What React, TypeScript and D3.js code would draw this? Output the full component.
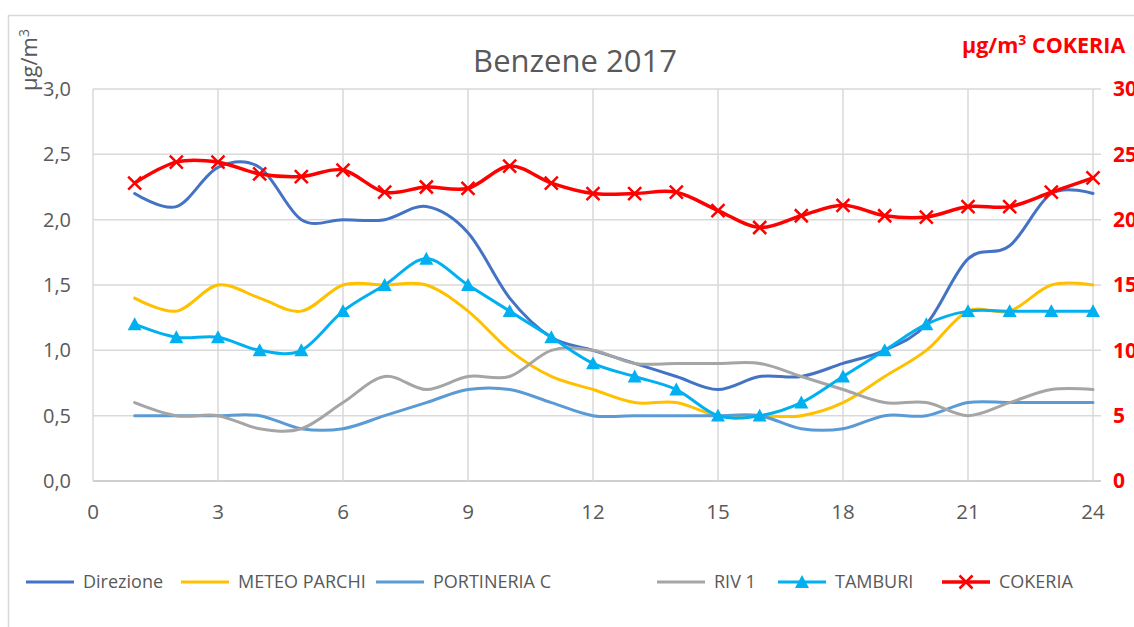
import * as d3 from "d3";

// Benzene 2017 — hourly means per station; COKERIA sits on its own right axis (0–30).

const hours = d3.range(1, 25);

const direzione = [2.2, 2.1, 2.4, 2.4, 2.0, 2.0, 2.0, 2.1, 1.9, 1.4, 1.1, 1.0, 0.9, 0.8, 0.7, 0.8, 0.8, 0.9, 1.0, 1.2, 1.7, 1.8, 2.2, 2.2];
const meteoParchi = [1.4, 1.3, 1.5, 1.4, 1.3, 1.5, 1.5, 1.5, 1.3, 1.0, 0.8, 0.7, 0.6, 0.6, 0.5, 0.5, 0.5, 0.6, 0.8, 1.0, 1.3, 1.3, 1.5, 1.5];
const portineria = [0.5, 0.5, 0.5, 0.5, 0.4, 0.4, 0.5, 0.6, 0.7, 0.7, 0.6, 0.5, 0.5, 0.5, 0.5, 0.5, 0.4, 0.4, 0.5, 0.5, 0.6, 0.6, 0.6, 0.6];
const riv1 = [0.6, 0.5, 0.5, 0.4, 0.4, 0.6, 0.8, 0.7, 0.8, 0.8, 1.0, 1.0, 0.9, 0.9, 0.9, 0.9, 0.8, 0.7, 0.6, 0.6, 0.5, 0.6, 0.7, 0.7];
const tamburi = [1.2, 1.1, 1.1, 1.0, 1.0, 1.3, 1.5, 1.7, 1.5, 1.3, 1.1, 0.9, 0.8, 0.7, 0.5, 0.5, 0.6, 0.8, 1.0, 1.2, 1.3, 1.3, 1.3, 1.3];
const cokeria = [22.8, 24.4, 24.4, 23.5, 23.3, 23.8, 22.1, 22.5, 22.4, 24.1, 22.8, 22.0, 22.0, 22.1, 20.7, 19.4, 20.3, 21.1, 20.3, 20.2, 21.0, 21.0, 22.1, 23.2];

const xTicks = [0, 3, 6, 9, 12, 15, 18, 21, 24];
const leftTicks = [0, 0.5, 1, 1.5, 2, 2.5, 3];
const rightTicks = [0, 5, 10, 15, 20, 25, 30];

type Series = { name: string; values: number[]; color: string; width: number; marker?: "triangle" | "x"; right?: boolean };

const series: Series[] = [
  { name: "Direzione", values: direzione, color: "#4472C4", width: 3 },
  { name: "METEO PARCHI", values: meteoParchi, color: "#FFC000", width: 3 },
  { name: "PORTINERIA C", values: portineria, color: "#5B9BD5", width: 3 },
  { name: "RIV 1", values: riv1, color: "#A5A5A5", width: 3 },
  { name: "TAMBURI", values: tamburi, color: "#00B0F0", width: 3, marker: "triangle" },
  { name: "COKERIA", values: cokeria, color: "#FF0000", width: 3.5, marker: "x", right: true },
];

// legend entry left edges, as laid out in the original
const legendX = [26, 181, 376, 657, 778, 942];

const W = 1134;
const H = 627;
const FONT = "'Open Sans', 'Noto Sans', sans-serif";
const GREY_TEXT = "#595959";
const GRID = "#D9D9D9";

function Marker({ kind, x, y, color }: { kind?: string; x: number; y: number; color: string }) {
  if (kind === "triangle") {
    const s = 7;
    return <path d={`M${x},${y - s}L${x + s},${y + s * 0.85}L${x - s},${y + s * 0.85}Z`} fill={color} />;
  }
  if (kind === "x") {
    const s = 6.5;
    return (
      <path
        d={`M${x - s},${y - s}L${x + s},${y + s}M${x - s},${y + s}L${x + s},${y - s}`}
        stroke={color}
        strokeWidth={2.5}
        fill="none"
      />
    );
  }
  return null;
}

export default function App() {
  const margin = { left: 93, right: 1093, top: 89, bottom: 481 };
  const x = d3.scaleLinear().domain([0, 24]).range([margin.left, margin.right]);
  const yL = d3.scaleLinear().domain([0, 3]).range([margin.bottom, margin.top]);
  const yR = d3.scaleLinear().domain([0, 30]).range([margin.bottom, margin.top]);

  const lineFor = (s: Series) =>
    d3
      .line<number>()
      .x((_, i) => x(hours[i]))
      .y((v) => (s.right ? yR(v) : yL(v)))
      .curve(d3.curveCardinal.tension(0))(s.values) ?? "";

  return (
    <svg
      width={W}
      height={H}
      style={{ position: "absolute", left: 0, top: 0, background: "#fff" }}
      fontFamily={FONT}
    >
      <rect x={8.5} y={15.5} width={1300} height={800} fill="none" stroke={GRID} strokeWidth={1.5} />

      <text x={575} y={72} textAnchor="middle" fontSize={31} fill={GREY_TEXT}>
        Benzene 2017
      </text>

      {/* gridlines */}
      {leftTicks.map((t) => (
        <line key={"h" + t} x1={margin.left} x2={margin.right + 8} y1={yL(t)} y2={yL(t)} stroke={t === 0 ? "#BFBFBF" : GRID} strokeWidth={1.5} />
      ))}
      {xTicks.map((t) => (
        <line key={"v" + t} x1={x(t)} x2={x(t)} y1={margin.top} y2={margin.bottom} stroke={GRID} strokeWidth={1.5} />
      ))}

      {/* left axis */}
      {leftTicks.map((t) => (
        <text key={"lt" + t} x={71} y={yL(t)} dy="0.35em" textAnchor="end" fontSize={20} fill={GREY_TEXT}>
          {d3.format(".1f")(t).replace(".", ",")}
        </text>
      ))}
      <text transform="translate(37,60) rotate(-90)" textAnchor="middle" fontSize={22} fill={GREY_TEXT}>
        µg/m<tspan dy={-8} fontSize={14}>3</tspan>
      </text>

      {/* right axis */}
      {rightTicks.map((t) => (
        <text key={"rt" + t} x={1113} y={yR(t)} dy="0.35em" fontSize={21} fontWeight="bold" fill="#FF0000">
          {t}
        </text>
      ))}
      <text x={962} y={53} fontSize={21.5} fontWeight="bold" fill="#FF0000">
        µg/m<tspan dy={-8} fontSize={14}>3</tspan>
        <tspan dy={8}> COKERIA</tspan>
      </text>

      {/* x axis */}
      {xTicks.map((t) => (
        <text key={"xt" + t} x={x(t)} y={512} dy="0.35em" textAnchor="middle" fontSize={20.5} fill={GREY_TEXT}>
          {t}
        </text>
      ))}

      {/* series */}
      {series.map((s) => (
        <g key={s.name}>
          <path d={lineFor(s)} fill="none" stroke={s.color} strokeWidth={s.width} strokeLinecap="round" />
          {s.marker &&
            s.values.map((v, i) => (
              <Marker key={i} kind={s.marker} x={x(hours[i])} y={s.right ? yR(v) : yL(v)} color={s.color} />
            ))}
        </g>
      ))}

      {/* legend */}
      {series.map((s, i) => {
        const lx = legendX[i];
        const ly = 582;
        return (
          <g key={"lg" + s.name}>
            <line x1={lx} x2={lx + 48} y1={ly} y2={ly} stroke={s.color} strokeWidth={s.width} />
            {s.marker && <Marker kind={s.marker} x={lx + 24} y={ly} color={s.color} />}
            <text x={lx + 57} y={ly} dy="0.35em" fontSize={18} fill={GREY_TEXT}>
              {s.name}
            </text>
          </g>
        );
      })}
    </svg>
  );
}
